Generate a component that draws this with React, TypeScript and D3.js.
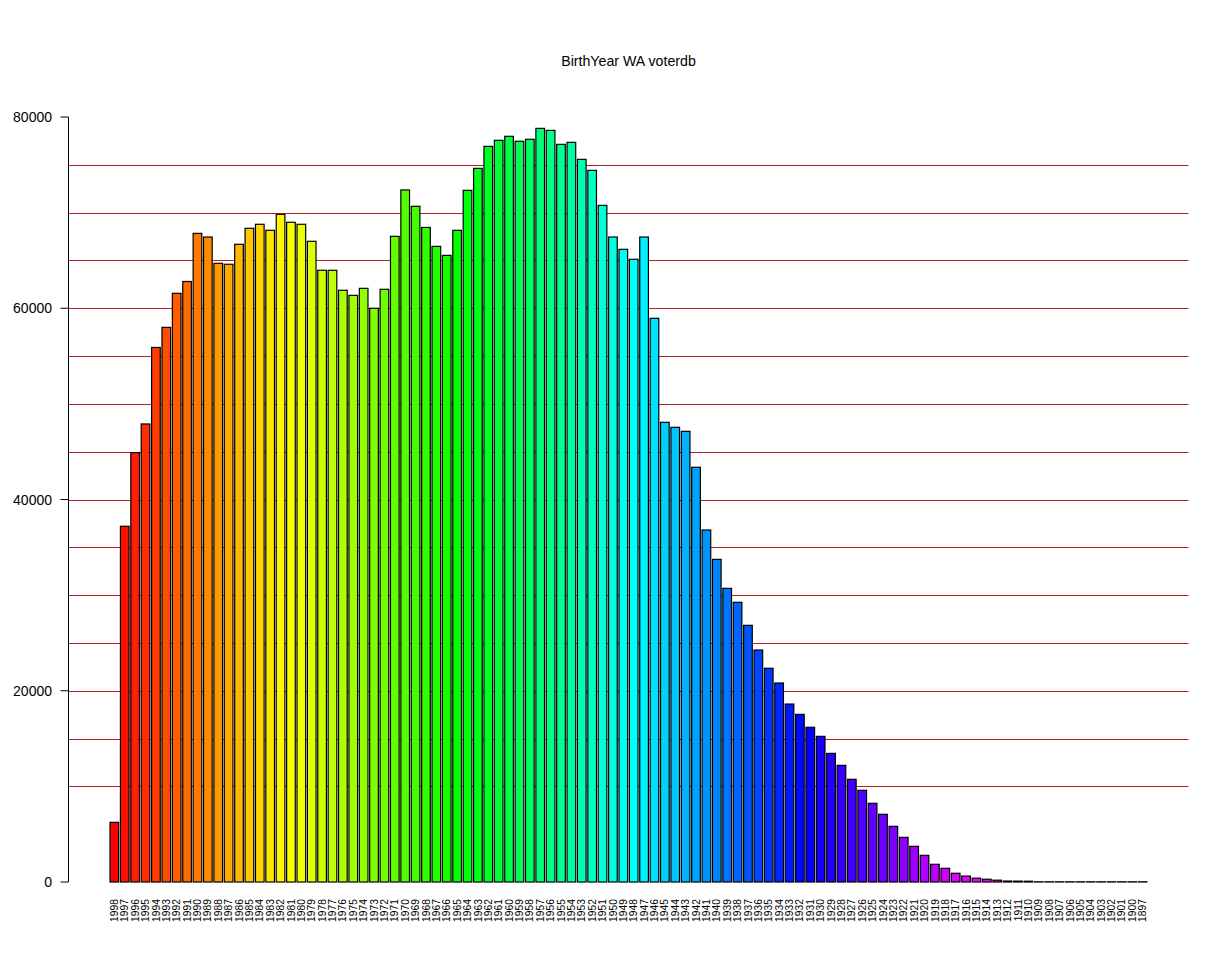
import React from 'react';
import * as d3 from 'd3';

// birth years, newest first (1899 and 1898 are missing in the source)
const years: string[] = [
  '1998', '1997', '1996', '1995', '1994', '1993', '1992', '1991', '1990', '1989',
  '1988', '1987', '1986', '1985', '1984', '1983', '1982', '1981', '1980', '1979',
  '1978', '1977', '1976', '1975', '1974', '1973', '1972', '1971', '1970', '1969',
  '1968', '1967', '1966', '1965', '1964', '1963', '1962', '1961', '1960', '1959',
  '1958', '1957', '1956', '1955', '1954', '1953', '1952', '1951', '1950', '1949',
  '1948', '1947', '1946', '1945', '1944', '1943', '1942', '1941', '1940', '1939',
  '1938', '1937', '1936', '1935', '1934', '1933', '1932', '1931', '1930', '1929',
  '1928', '1927', '1926', '1925', '1924', '1923', '1922', '1921', '1920', '1919',
  '1918', '1917', '1916', '1915', '1914', '1913', '1912', '1911', '1910', '1909',
  '1908', '1907', '1906', '1905', '1904', '1903', '1902', '1901', '1900', '1897',
];

// voter counts per birth year
const counts: number[] = [
  6240, 37200, 44900, 47900, 55900, 58000, 61560, 62800, 67830, 67450,
  64700, 64600, 66690, 68360, 68780, 68150, 69820, 68990, 68780, 67000,
  63970, 63970, 61880, 61350, 62080, 60000, 61980, 67520, 72370, 70660,
  68450, 66470, 65530, 68150, 72330, 74630, 76930, 77560, 77980, 77460,
  77670, 78810, 78600, 77140, 77350, 75570, 74420, 70760, 67450, 66160,
  65120, 67450, 58950, 48070, 47550, 47130, 43370, 36810, 33740, 30710,
  29250, 26840, 24260, 22350, 20810, 18610, 17530, 16180, 15230, 13450,
  12200, 10740, 9590, 8230, 7080, 5820, 4670, 3730, 2790, 1850,
  1430, 910, 620, 400, 290, 190, 100, 90, 80, 20,
  20, 20, 20, 20, 20, 20, 20, 20, 20, 20,
];

const yTicks = [0, 20000, 40000, 60000, 80000];
const refLines = d3.range(10000, 80000, 5000);

const title = 'BirthYear WA voterdb';

export default function App() {
  const width = 1224;
  const height = 968;
  const plot = { left: 68.5, right: 1188.5, top: 117, bottom: 882 };
  const font = '"Liberation Sans", Arial, sans-serif';

  const x = d3
    .scaleBand<string>()
    .domain(years)
    .range([plot.left, plot.right])
    .paddingInner(1 / 6)
    .paddingOuter(4);

  const y = d3.scaleLinear().domain([0, 80000]).range([plot.bottom, plot.top]);

  // R's rainbow(n): full saturation hues from red round the wheel
  const color = (i: number) => d3.hsl((i / years.length) * 360, 1, 0.5).formatHex();

  return (
    <svg
      width={width}
      height={height}
      style={{ position: 'absolute', left: 0, top: 0, background: '#fff' }}
      fontFamily={font}
    >
      <rect width={width} height={height} fill="#fff" />

      {/* title */}
      <text x={(plot.left + plot.right) / 2} y={66} textAnchor="middle" fontSize={14.2} fill="#000">
        {title}
      </text>

      {/* reference lines */}
      {refLines.map((v) => (
        <line
          key={v}
          x1={plot.left}
          x2={plot.right}
          y1={Math.round(y(v)) + 0.5}
          y2={Math.round(y(v)) + 0.5}
          stroke="#b22222"
          strokeWidth={1}
        />
      ))}

      {/* bars */}
      {counts.map((c, i) => (
        <rect
          key={years[i]}
          x={x(years[i])!}
          y={y(c)}
          width={x.bandwidth()}
          height={y(0) - y(c)}
          fill={color(i)}
          stroke="#000"
          strokeWidth={1.2}
        />
      ))}

      {/* y axis */}
      <line x1={plot.left} x2={plot.left} y1={y(0)} y2={y(80000)} stroke="#000" strokeWidth={1} />
      {yTicks.map((t) => (
        <g key={t} transform={`translate(0,${y(t)})`}>
          <line x1={plot.left - 8} x2={plot.left} stroke="#000" strokeWidth={1} />
          <text x={52} dy="0.36em" textAnchor="end" fontSize={14} fill="#000">
            {t}
          </text>
        </g>
      ))}

      {/* year labels, vertical */}
      {years.map((yr) => {
        const cx = x(yr)! + x.bandwidth() / 2;
        return (
          <text
            key={yr}
            transform={`translate(${cx},899) rotate(-90)`}
            dy="0.35em"
            textAnchor="end"
            fontSize={10.3}
            fill="#000"
          >
            {yr}
          </text>
        );
      })}
    </svg>
  );
}
